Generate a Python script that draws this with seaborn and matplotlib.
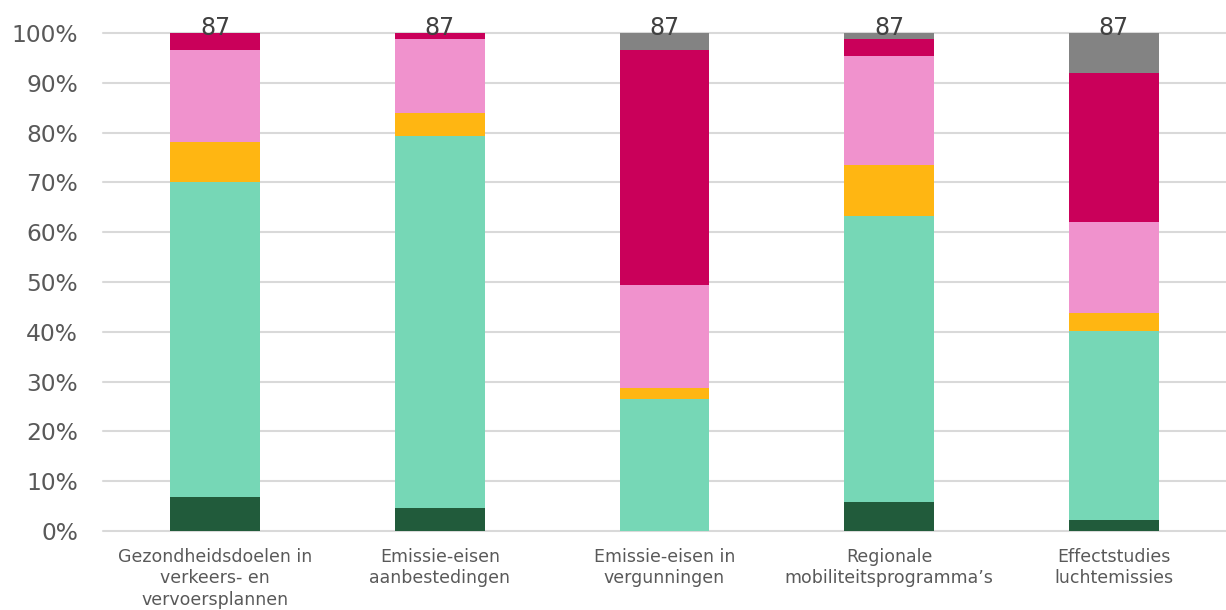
import numpy as np
import pandas as pd
import matplotlib
matplotlib.use("Agg")
import matplotlib.pyplot as plt
import seaborn as sns

# Categories (x-axis)
categories = [
    "Gezondheidsdoelen in\nverkeers- en\nvervoersplannen",
    "Emissie-eisen\naanbestedingen",
    "Emissie-eisen in\nvergunningen",
    "Regionale\nmobiliteitsprogramma\u2019s",
    "Effectstudies\nluchtemissies",
]

# Response counts per answer level (bottom to top of each stack)
level_1 = [6, 4, 0, 5, 2]     # dark green
level_2 = [55, 65, 23, 50, 33]  # mint
level_3 = [7, 4, 2, 9, 3]     # orange
level_4 = [16, 13, 18, 19, 16]  # pink
level_5 = [3, 1, 41, 3, 26]   # magenta
level_6 = [0, 0, 3, 1, 7]     # gray

levels = [level_1, level_2, level_3, level_4, level_5, level_6]
colors = ["#215B3B", "#76D7B6", "#FFB612", "#F092CD", "#CA005A", "#838383"]

counts = np.array(levels, dtype=float)
totals = counts.sum(axis=0)
pct = counts / totals * 100
cum = np.cumsum(pct, axis=0)

sns.set_theme(style="white")
plt.rcParams["font.family"] = ["DejaVu Sans"]

fig = plt.figure(figsize=(12.26, 6.10), dpi=100)
ax = fig.add_axes([0.084, 0.1295, 0.916, 0.8164])

# Draw cumulative stacks from the top down so each lower layer covers the rest
for i in range(len(levels) - 1, -1, -1):
    df = pd.DataFrame({"cat": categories, "val": cum[i]})
    sns.barplot(data=df, x="cat", y="val", order=categories, color=colors[i],
                saturation=1, width=0.4, ax=ax, linewidth=0, zorder=2)

ax.set_ylim(0, 100)
ax.set_xlim(-0.5, len(categories) - 0.5)
ax.set_yticks(np.arange(0, 101, 10))
ax.set_yticklabels([f"{v}%" for v in range(0, 101, 10)])
ax.yaxis.grid(False)
for v in range(0, 101, 10):
    ax.axhline(v, color="#D9D9D9", linewidth=1.5, zorder=0, clip_on=False)
ax.set_axisbelow(True)
ax.set_xlabel("")
ax.set_ylabel("")
for s in ax.spines.values():
    s.set_visible(False)

ax.tick_params(axis="y", length=0, pad=18, labelsize=16.8, labelcolor="#595959")
ax.tick_params(axis="x", length=0, pad=12, labelsize=12.5, labelcolor="#595959")
for lab in ax.get_xticklabels():
    lab.set_linespacing(1.25)
    lab.set_horizontalalignment("center")

# Sample size above each bar
for x, n in enumerate(totals):
    ax.annotate(f"{int(n)}", (x, 100), xytext=(0, -1.5), textcoords="offset points",
                ha="center", va="baseline", fontsize=17, color="#404040",
                annotation_clip=False, zorder=5)

fig.savefig("out.png", dpi=100)
